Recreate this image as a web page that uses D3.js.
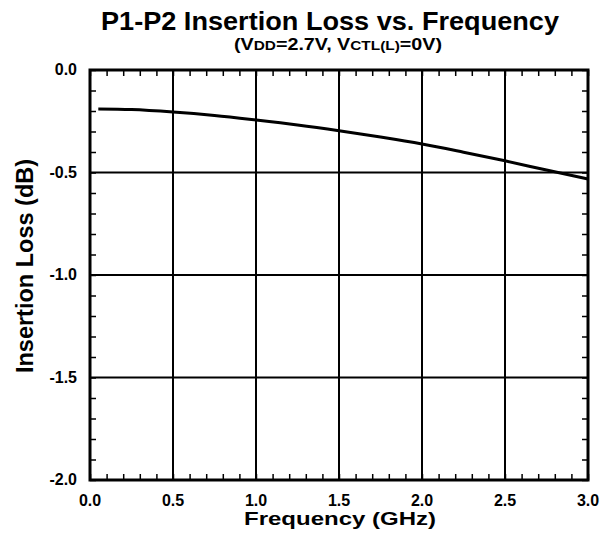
<!DOCTYPE html>
<html>
<head>
<meta charset="utf-8">
<script src="https://cdn.jsdelivr.net/npm/d3@7"></script>
<style>
body{margin:0;background:#fff;}
text{font-family:"Liberation Sans",Arial,sans-serif;font-weight:bold;fill:#000;}
</style>
</head>
<body>
<div id="canvas"></div>
<script>
// data
var freq = [0.05, 0.25, 0.5, 0.75, 1.0, 1.25, 1.5, 1.75, 2.0, 2.25, 2.5, 2.75, 3.0];
var loss = [-0.190, -0.193, -0.205, -0.222, -0.244, -0.268, -0.296, -0.327, -0.361, -0.401, -0.443, -0.488, -0.532];
var xTicks = [0, 0.5, 1.0, 1.5, 2.0, 2.5, 3.0];
var yTicks = [0, -0.5, -1.0, -1.5, -2.0];

var W = 602, H = 546;
var m = {t:70,r:14,b:66,l:90};
var w = W - m.l - m.r,
    h = H - m.t - m.b;

var svg = d3.select('#canvas').append('svg')
    .attr('width',W)
    .attr('height',H);
var plot = svg.append('g')
    .attr('transform','translate(' + m.l + ',' + m.t + ')');

var scaleX = d3.scaleLinear().domain([0,3]).range([0,w]);
var scaleY = d3.scaleLinear().domain([-2,0]).range([h,0]);

// minor ticks every 0.1
var xMinor = d3.range(0,31).map(function(i){return i/10;});
var yMinor = d3.range(-20,1).map(function(i){return i/10;});

// gridlines
plot.selectAll('.vgrid').data(xTicks.slice(1,-1)).enter().append('line')
    .attr('x1',function(d){return scaleX(d)}).attr('x2',function(d){return scaleX(d)})
    .attr('y1',0).attr('y2',h)
    .style('stroke','#000').style('stroke-width','2px');
plot.selectAll('.hgrid').data(yTicks.slice(1,-1)).enter().append('line')
    .attr('y1',function(d){return scaleY(d)}).attr('y2',function(d){return scaleY(d)})
    .attr('x1',0).attr('x2',w)
    .style('stroke','#000').style('stroke-width','2px');

// inside ticks on all four sides
var tl = 6;
function addAxis(axis, tr){
    var g = plot.append('g').attr('transform',tr).call(axis);
    g.select('.domain').remove();
    g.selectAll('line').style('stroke','#000').style('stroke-width','1.5px');
    g.selectAll('text').remove();
}
addAxis(d3.axisBottom(scaleX).tickValues(xMinor).tickSize(-tl), 'translate(0,'+h+')');
addAxis(d3.axisTop(scaleX).tickValues(xMinor).tickSize(-tl), 'translate(0,0)');
addAxis(d3.axisLeft(scaleY).tickValues(yMinor).tickSize(-tl), 'translate(0,0)');
addAxis(d3.axisRight(scaleY).tickValues(yMinor).tickSize(-tl), 'translate('+w+',0)');

// tick labels
plot.selectAll('.xlab').data(xTicks).enter().append('text')
    .attr('x',function(d){return scaleX(d)})
    .attr('y',h+26)
    .attr('text-anchor','middle')
    .style('font-size','16px')
    .text(function(d){return d.toFixed(1)});
plot.selectAll('.ylab').data(yTicks).enter().append('text')
    .attr('x',-13)
    .attr('y',function(d){return scaleY(d)+5})
    .attr('text-anchor','end')
    .style('font-size','16px')
    .text(function(d){return d.toFixed(1)});

// curve
var line = d3.line()
    .x(function(d){return scaleX(d[0])})
    .y(function(d){return scaleY(d[1])})
    .curve(d3.curveMonotoneX);
plot.append('path')
    .datum(freq.map(function(f,i){return [f,loss[i]];}))
    .attr('d',line)
    .style('fill','none')
    .style('stroke','#000')
    .style('stroke-width','3px');

// frame
plot.append('rect')
    .attr('width',w).attr('height',h)
    .style('fill','none').style('stroke','#000').style('stroke-width','3px');

// titles (glyphs in the source are a bit wide, so stretch to measured length)
svg.append('text').attr('x',330).attr('y',30)
    .attr('text-anchor','middle').style('font-size','25px')
    .attr('textLength',458).attr('lengthAdjust','spacingAndGlyphs')
    .text('P1-P2 Insertion Loss vs. Frequency');
var sub = svg.append('text').attr('x',338).attr('y',50)
    .attr('text-anchor','middle').style('font-size','16px')
    .attr('textLength',208).attr('lengthAdjust','spacingAndGlyphs');
sub.append('tspan').text('(V');
sub.append('tspan').style('font-size','12.5px').text('DD');
sub.append('tspan').text('=2.7V, V');
sub.append('tspan').style('font-size','12.5px').text('CTL(L)');
sub.append('tspan').text('=0V)');

svg.append('text').attr('x',340).attr('y',525)
    .attr('text-anchor','middle').style('font-size','19px')
    .attr('textLength',192).attr('lengthAdjust','spacingAndGlyphs')
    .text('Frequency (GHz)');
svg.append('text')
    .attr('transform','translate(33,266) rotate(-90)')
    .attr('text-anchor','middle').style('font-size','23.5px')
    .text('Insertion Loss (dB)');
</script>
</body>
</html>
